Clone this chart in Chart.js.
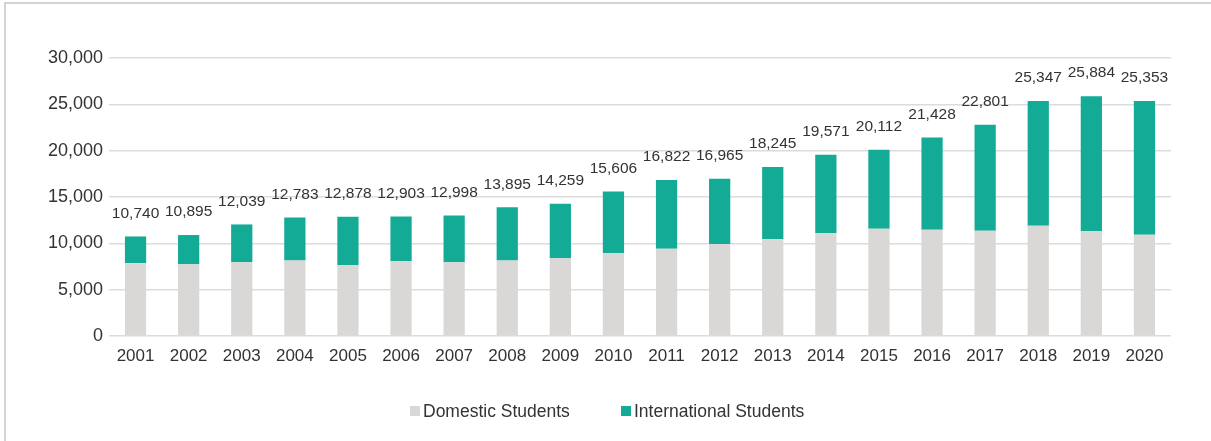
<!DOCTYPE html>
<html>
<head>
<meta charset="utf-8">
<script src="https://cdn.jsdelivr.net/npm/chart.js@4"></script>
<style>
  html, body { margin: 0; padding: 0; background: #fff; }
  #wrap { position: relative; width: 1211px; height: 441px; overflow: hidden; }
  #frame {
    position: absolute; left: 4px; top: 2px; right: 0; bottom: 0;
    border-left: 2px solid #d4d4d4; border-top: 2px solid #d4d4d4;
    pointer-events: none;
  }
  #legend {
    position: absolute; top: 401px; left: 0; width: 1211px; height: 20px;
    font: 17.5px "Helvetica Neue", Arial, "Liberation Sans", sans-serif; color: #333;
  }
  .item { position: absolute; top: 0; display: flex; align-items: center; height: 20px; white-space: nowrap; }
  .box { width: 10px; height: 10px; margin-right: 3px; }
</style>
</head>
<body>
<div id="wrap">
  <canvas id="enrolChart" width="1211" height="441"></canvas>
  <div id="frame"></div>
  <div id="legend"></div>
</div>
<script>
const years = ["2001", "2002", "2003", "2004", "2005", "2006", "2007", "2008", "2009", "2010",
  "2011", "2012", "2013", "2014", "2015", "2016", "2017", "2018", "2019", "2020"];
const domestic = [7850, 7740, 7960, 8140, 7670, 8060, 7950, 8140, 8420, 8950,
  9410, 9920, 10430, 11110, 11580, 11470, 11360, 11900, 11300, 10930];
const international = [2890, 3155, 4079, 4643, 5208, 4843, 5048, 5755, 5839, 6656,
  7412, 7045, 7815, 8461, 8532, 9958, 11441, 13447, 14584, 14423];
const yTicks = [0, 5000, 10000, 15000, 20000, 25000, 30000];

const seriesNames = ["Domestic Students", "International Students"];
const seriesColors = ["#d9d8d6", "#13ab96"];
const fontFamily = '"Helvetica Neue", Arial, "Liberation Sans", sans-serif';
const fmt = (v) => v.toLocaleString("en-US");

// totals above each stacked column
const totalLabels = {
  id: "totalLabels",
  afterDatasetsDraw(chart) {
    const ctx = chart.ctx;
    const yScale = chart.scales.y;
    const meta = chart.getDatasetMeta(0);
    ctx.save();
    ctx.font = "15.5px " + fontFamily;
    ctx.fillStyle = "#333";
    ctx.textAlign = "center";
    ctx.textBaseline = "middle";
    years.forEach((y, i) => {
      const total = domestic[i] + international[i];
      const x = meta.data[i].x;
      ctx.fillText(fmt(total), x, yScale.getPixelForValue(total) - 23);
    });
    ctx.restore();
  },
};

const ctx = document.getElementById("enrolChart").getContext("2d");
new Chart(ctx, {
  type: "bar",
  data: {
    labels: years,
    datasets: [
      { label: seriesNames[0], data: domestic, backgroundColor: seriesColors[0] },
      { label: seriesNames[1], data: international, backgroundColor: seriesColors[1] },
    ],
  },
  options: {
    responsive: false,
    animation: false,
    layout: { padding: { top: 58, right: 40, bottom: 75, left: 0 } },
    datasets: { bar: { categoryPercentage: 1, barPercentage: 0.4, borderWidth: 0 } },
    scales: {
      x: {
        stacked: true,
        grid: { display: false, drawTicks: false },
        border: { display: false },
        ticks: { color: "#333", font: { family: fontFamily, size: 17 }, padding: 10, maxRotation: 0 },
        afterFit(scale) { scale.height = 30; },
      },
      y: {
        stacked: true,
        min: 0,
        max: 30000,
        afterBuildTicks(scale) { scale.ticks = yTicks.map((v) => ({ value: v })); },
        grid: { color: "#dcdcdc", lineWidth: 1.5, drawTicks: false },
        border: { display: false },
        ticks: {
          color: "#333",
          font: { family: fontFamily, size: 18 },
          padding: 6,
          callback: (v) => fmt(v),
        },
        afterFit(scale) { scale.width = 109; },
      },
    },
    plugins: {
      legend: { display: false },
      tooltip: { enabled: false },
    },
  },
  plugins: [totalLabels],
});

// legend row under the chart
const legend = document.getElementById("legend");
const legendLeft = [410, 621];
seriesNames.forEach((name, i) => {
  const item = document.createElement("div");
  item.className = "item";
  item.style.left = legendLeft[i] + "px";
  item.innerHTML = `<span class="box" style="background:${seriesColors[i]}"></span>${name}`;
  legend.appendChild(item);
});
</script>
</body>
</html>
